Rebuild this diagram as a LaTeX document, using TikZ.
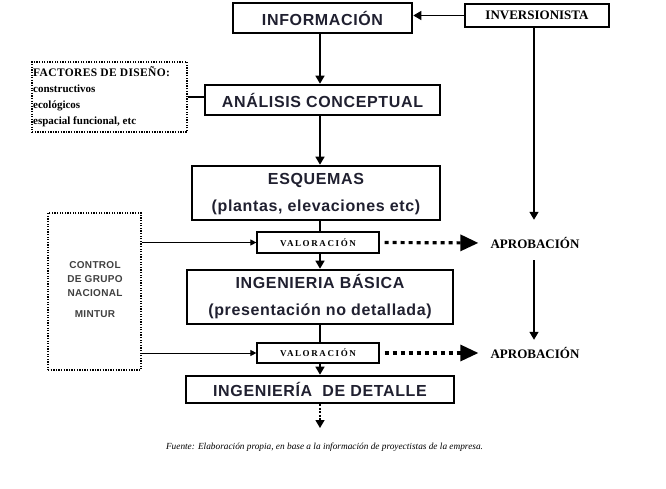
\documentclass[tikz,border=0pt]{standalone}
\usepackage{fontspec}
\setmainfont{Liberation Serif}
\newfontfamily\arialsp[LetterSpace=4]{Liberation Sans}
\newfontfamily\arialsm[LetterSpace=3]{Liberation Sans}
\newfontfamily\timessp[LetterSpace=18]{Liberation Serif}
\newfontfamily\timesfs[LetterSpace=3]{Liberation Serif}
\usetikzlibrary{arrows.meta}
\definecolor{txt}{HTML}{202030}
\definecolor{ctl}{HTML}{404040}
\begin{document}
\begin{tikzpicture}[x=1pt,y=-1pt,
  mainbox/.style={draw=black,line width=2.6pt,rectangle,inner sep=0pt,align=center,
    text=txt,font=\arialsp\bfseries\fontsize{16}{27}\selectfont},
  thinbox/.style={draw=black,line width=1.2pt,rectangle,inner sep=0pt,align=center},
  dotbox/.style={draw=black,line width=1.2pt,dash pattern=on 1.3pt off 1.3pt,rectangle,inner sep=0pt},
  arr/.style={line width=1.4pt,-{Triangle[width=9pt,length=8pt]}},
  smallarr/.style={line width=1pt,-{Triangle[width=6pt,length=6pt]}},
  dotarr/.style={line width=3.2pt,dash pattern=on 4pt off 4pt,-{Triangle[width=16pt,length=18pt]}},
  aprob/.style={inner sep=0pt,minimum height=12pt,font=\bfseries\fontsize{13}{15}\selectfont},
  plain/.style={line width=1.2pt}]
\useasboundingbox[fill=white] (0,0) rectangle (666,489);
\coordinate (ax) at (320,0);
\coordinate (ax2) at (534,0);

\node[mainbox,minimum width=179pt,minimum height=30pt] (info) at (322.5,18) {INFORMACIÓN};
\node[thinbox,minimum width=144pt,minimum height=23pt,font=\bfseries\fontsize{13}{15}\selectfont] (inver) at (537,15.5) {INVERSIONISTA};
\node[mainbox,minimum width=235pt,minimum height=30pt] (anal) at (322.5,100) {ANÁLISIS CONCEPTUAL};
\node[dotbox,minimum width=155pt,minimum height=70pt] (fact) at (109.5,97) {};
\node[anchor=north west,inner sep=0pt,align=left,font=\bfseries\fontsize{11}{16.2}\selectfont] (facttxt) at (33,66)
  {{\timesfs\fontsize{11.5}{16}\selectfont FACTORES DE DISEÑO:}\\constructivos\\ecológicos\\espacial funcional, etc};
\node[mainbox,minimum width=248pt,minimum height=54pt] (esq) at (316,193) {\rule{0pt}{14pt}ESQUEMAS\\(plantas, elevaciones etc)};
\node[thinbox,minimum width=122pt,minimum height=21pt,font=\timessp\bfseries\fontsize{9}{11}\selectfont] (val1) at (318,242.5) {VALORACIÓN};
\node[mainbox,minimum width=266pt,minimum height=54pt] (ingb) at (320,297) {\rule{0pt}{14pt}INGENIERIA BÁSICA\\(presentación no detallada)};
\node[thinbox,minimum width=122pt,minimum height=20pt,font=\timessp\bfseries\fontsize{9}{11}\selectfont] (val2) at (318,353) {VALORACIÓN};
\node[mainbox,minimum width=268pt,minimum height=27pt] (ingd) at (320,389.5) {INGENIERÍA~ DE DETALLE};
\node[dotbox,line width=1.8pt,minimum width=93pt,minimum height=157pt] (ctrl) at (94.5,291.5) {};
\node[anchor=north,inner sep=0pt,align=center,text=ctl,font=\arialsm\bfseries\fontsize{10}{14}\selectfont] (ctrltxt) at (95,261)
  {CONTROL\\DE GRUPO\\NACIONAL\\[7pt]MINTUR};
\node[aprob] (apr1) at (535,243) {APROBACIÓN};
\node[aprob] (apr2) at (535,353) {APROBACIÓN};
\coordinate (dend) at (320,428);
\node[font=\itshape\fontsize{9.3}{11}\selectfont] (cap) at (324.5,447) {Fuente: Elaboración propia, en base a la información de proyectistas de la empresa.};

% connectors
\draw[arr] (inver.west) -- (inver.west -| info.east);
\draw[arr] (info.south -| ax) -- (anal.north -| ax);
\draw[plain] (fact.east) -- (fact.east -| anal.west);
\draw[arr] (anal.south -| ax) -- (esq.north -| ax);
\draw[plain] (esq.south -| ax) -- (val1.north -| ax);
\draw[arr] (val1.south -| ax) -- (ingb.north -| ax);
\draw[plain] (ingb.south -| ax) -- (val2.north -| ax);
\draw[arr] (val2.south -| ax) -- (ingd.north -| ax);
\draw[arr,dash pattern=on 2pt off 1.5pt] (ingd.south -| ax) -- (dend);
\draw[smallarr] (ctrl.east |- val1.west) -- (val1.west);
\draw[smallarr] (ctrl.east |- val2.west) -- (val2.west);
\draw[dotarr,shorten <=5pt,shorten >=12pt] (val1.east) -- (apr1.west);
\draw[dotarr,shorten <=5pt,shorten >=12pt] (val2.east) -- (apr2.west);
\draw[arr,shorten >=17pt] (inver.south -| ax2) -- (apr1.north -| ax2);
\draw[arr,shorten <=11pt,shorten >=7pt] (apr1.south -| ax2) -- (apr2.north -| ax2);
\end{tikzpicture}
\end{document}
